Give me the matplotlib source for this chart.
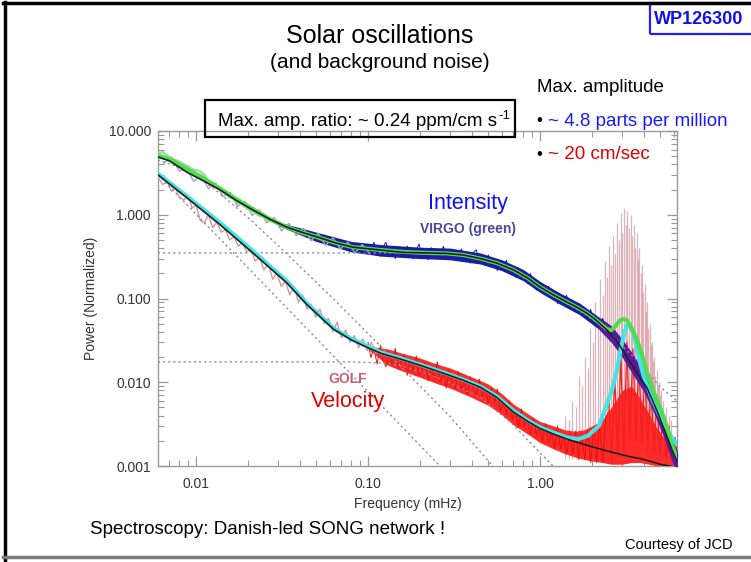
import numpy as np
import matplotlib.pyplot as plt
from matplotlib.lines import Line2D
from matplotlib.patches import Rectangle

plt.rcParams['font.family'] = ['Liberation Sans', 'DejaVu Sans']

# ---- smooth fits (mHz, normalized power) ----
int_fit_f = [0.006, 0.007, 0.0089, 0.011, 0.0138, 0.017, 0.0214, 0.027, 0.0338, 0.042, 0.0526,
             0.065, 0.0818, 0.117, 0.16, 0.22, 0.29, 0.36, 0.45, 0.56, 0.70, 0.85, 1.0, 1.2, 1.43,
             1.65, 1.87, 2.1, 2.45, 2.8, 3.2, 3.8, 4.2, 4.8, 5.4, 5.9, 6.3]
int_fit_p = [4.9, 4.4, 3.2, 2.55, 1.98, 1.5, 1.14, 0.88, 0.71, 0.61, 0.53,
             0.46, 0.41, 0.38, 0.355, 0.35, 0.345, 0.33, 0.30, 0.265, 0.22, 0.175, 0.137, 0.11, 0.091,
             0.078, 0.067, 0.056, 0.042, 0.031, 0.02, 0.0115, 0.0085, 0.0045, 0.0024, 0.0015, 0.0011]

green_fit_f = [0.006, 0.007, 0.0089, 0.011, 0.0138, 0.017, 0.0214, 0.027, 0.0338, 0.042, 0.0526,
               0.065, 0.0818, 0.117, 0.16, 0.22, 0.29, 0.36, 0.45, 0.56, 0.70, 0.85, 1.0, 1.2, 1.43,
               1.65, 1.87, 2.1, 2.3, 2.45, 2.6, 2.75, 2.9, 3.04, 3.2, 3.4, 3.66, 3.9, 4.2, 4.6,
               5.0, 5.45, 5.9, 6.3]
green_fit_p = [5.1, 4.6, 3.5, 2.75, 2.05, 1.55, 1.17, 0.88, 0.71, 0.61, 0.53,
               0.46, 0.41, 0.38, 0.36, 0.35, 0.345, 0.33, 0.30, 0.265, 0.22, 0.175, 0.137, 0.11, 0.091,
               0.078, 0.067, 0.056, 0.048, 0.043, 0.042, 0.047, 0.054, 0.057, 0.055, 0.045, 0.032, 0.022,
               0.0129, 0.0075, 0.005, 0.003, 0.0017, 0.0012]

golf_fit_f = [0.006, 0.0089, 0.0138, 0.0214, 0.0338, 0.044, 0.063, 0.08, 0.099, 0.12, 0.153, 0.2,
              0.29, 0.36, 0.45, 0.56, 0.70, 0.85, 1.0, 1.2, 1.43, 1.67, 2.0, 2.65, 3.3, 4.0, 5.0,
              5.9, 6.3]
golf_fit_p = [3.0, 1.58, 0.76, 0.35, 0.153, 0.085, 0.043, 0.032, 0.026, 0.022, 0.019, 0.016,
              0.0123, 0.0105, 0.0087, 0.0066, 0.0044, 0.0034, 0.0028, 0.0024, 0.0021, 0.0019, 0.0017,
              0.00145, 0.0013, 0.0012, 0.00105, 0.00098, 0.00095]

cyan_fit_f = [0.006, 0.0089, 0.0138, 0.0214, 0.0338, 0.044, 0.063, 0.08, 0.099, 0.12, 0.153, 0.2,
              0.29, 0.36, 0.45, 0.56, 0.70, 0.85, 1.0, 1.2, 1.43, 1.67, 1.9, 2.2, 2.45, 2.65, 2.8,
              2.95, 3.1, 3.2, 3.35, 3.5, 3.66, 3.85, 4.0, 4.5, 5.2, 5.9, 6.3]
cyan_fit_p = [3.1, 1.65, 0.8, 0.37, 0.16, 0.088, 0.044, 0.033, 0.027, 0.0225, 0.0195, 0.0163,
              0.0126, 0.0107, 0.0089, 0.0068, 0.0046, 0.0035, 0.0029, 0.0025, 0.0022, 0.0021, 0.0023,
              0.0030, 0.0055, 0.0087, 0.014, 0.025, 0.04, 0.048, 0.047, 0.038, 0.025, 0.016, 0.012,
              0.0062, 0.0033, 0.0021, 0.0018]

# ---- background components (dotted) ----
harv1_int_f = [0.006, 0.008, 0.010, 0.0125, 0.015, 0.0206, 0.03, 0.0626, 0.15, 0.3, 0.53]
harv1_int_p = [4.5, 3.7, 2.9, 2.1, 1.55, 0.88, 0.43, 0.1, 0.0165, 0.0039, 0.001]
harv2_int_f = [0.006, 0.1, 0.3, 0.45, 0.6, 0.8, 1.0, 1.43, 1.87, 2.45, 3.0, 3.66, 4.3, 5.0, 5.6, 6.26]
harv2_int_p = [0.35, 0.35, 0.35, 0.30, 0.245, 0.18, 0.135, 0.088, 0.063, 0.042, 0.027, 0.0185,
               0.0125, 0.0088, 0.0072, 0.006]
harv1_golf_f = [0.006, 0.262]
harv1_golf_p = [3.0, 0.001]
harv2_golf_f = [0.006, 0.08, 0.12, 0.16, 0.22, 0.3, 0.45, 0.7, 0.9, 1.05, 1.19]
harv2_golf_p = [0.0175, 0.0175, 0.017, 0.0155, 0.0128, 0.0098, 0.0066, 0.0031, 0.0018, 0.0013, 0.001]

# ---- raw spectra (estimated wiggles) ----
green_raw_f = [0.0060, 0.0064, 0.0068, 0.0072, 0.0076, 0.0080, 0.0085, 0.0090, 0.0095, 0.0100,
               0.0106, 0.0112, 0.0118, 0.0125, 0.0132, 0.0140, 0.0148, 0.0157, 0.0166, 0.0176,
               0.0186, 0.0197, 0.0209, 0.0221, 0.0234, 0.0248, 0.0263, 0.0279, 0.0295, 0.0313,
               0.0331, 0.0351, 0.0372, 0.0394, 0.0417, 0.0442, 0.0468, 0.0496, 0.0525, 0.0556,
               0.0589, 0.0624, 0.0661, 0.0700]
green_raw_p = [5.4, 5.6, 5.1, 4.7, 4.5, 4.3, 4.0, 3.8, 3.5, 3.4,
               3.3, 3.0, 2.5, 2.4, 2.2, 1.9, 1.8, 1.6, 1.55, 1.35,
               1.32, 1.18, 1.12, 1.05, 0.97, 0.95, 0.86, 0.84, 0.78, 0.76,
               0.70, 0.69, 0.64, 0.63, 0.59, 0.58, 0.55, 0.54, 0.51, 0.50,
               0.48, 0.47, 0.45, 0.44]

lav_raw_f = [0.0065, 0.0072, 0.008, 0.0088, 0.0097, 0.0107, 0.0118, 0.013, 0.0143, 0.0158,
             0.0174, 0.0192, 0.0212, 0.0234, 0.0258, 0.0285, 0.0314, 0.0347, 0.0383, 0.0422,
             0.0466, 0.0514, 0.0567, 0.0626, 0.069, 0.0762, 0.084, 0.0927, 0.1023]
lav_raw_p = [4.1, 4.9, 3.3, 3.6, 2.5, 3.0, 2.05, 2.4, 1.65, 1.85,
             1.25, 1.45, 0.98, 1.15, 0.8, 0.93, 0.64, 0.79, 0.56, 0.69,
             0.49, 0.6, 0.43, 0.53, 0.39, 0.47, 0.35, 0.44, 0.34]

golf_low_f = [0.0060, 0.0064, 0.0068, 0.0072, 0.0076, 0.0080, 0.0085, 0.0090, 0.0095, 0.0100,
              0.0106, 0.0112, 0.0118, 0.0125, 0.0132, 0.0140, 0.0148, 0.0157, 0.0166, 0.0176,
              0.0186, 0.0197, 0.0209, 0.0221, 0.0234, 0.0248, 0.0263, 0.0279, 0.0295, 0.0313,
              0.0331, 0.0351, 0.0372, 0.0394, 0.0417, 0.0442, 0.0468, 0.0496, 0.0525, 0.0556,
              0.0589, 0.0624, 0.0661, 0.0700, 0.0741, 0.0785, 0.0832, 0.0881, 0.0933, 0.0989,
              0.1047, 0.1109]
golf_low_p = [2.8, 2.3, 2.5, 1.9, 2.1, 1.6, 1.5, 1.7, 1.2, 1.3,
              0.85, 0.8, 1.0, 0.7, 0.82, 0.62, 0.66, 0.5, 0.55, 0.42,
              0.47, 0.36, 0.38, 0.28, 0.31, 0.22, 0.26, 0.17, 0.2, 0.14,
              0.16, 0.11, 0.14, 0.09, 0.11, 0.075, 0.085, 0.06, 0.075, 0.05,
              0.058, 0.04, 0.052, 0.034, 0.042, 0.03, 0.036, 0.026, 0.033, 0.024,
              0.03, 0.022]

jag_f = [0.100, 0.104, 0.108, 0.113, 0.118, 0.122, 0.127, 0.133, 0.138, 0.144, 0.150, 0.156,
         0.162, 0.169, 0.176, 0.183, 0.191, 0.198, 0.206, 0.215, 0.224, 0.233, 0.243, 0.253,
         0.263, 0.274, 0.285, 0.297, 0.309, 0.322, 0.335, 0.349, 0.363, 0.378, 0.393, 0.410,
         0.426, 0.444, 0.462, 0.481, 0.501, 0.521, 0.543, 0.565, 0.588, 0.613, 0.638, 0.664,
         0.691, 0.720, 0.749, 0.780, 0.812, 0.846, 0.880, 0.917, 0.954, 0.993, 1.034, 1.077,
         1.121, 1.167, 1.215, 1.265, 1.317, 1.371, 1.427, 1.486, 1.547, 1.611, 1.677, 1.746,
         1.818, 1.892, 1.970, 2.051, 2.135, 2.223, 2.315, 2.410, 2.509]
int_jag_p = [0.437, 0.334, 0.47, 0.363, 0.319, 0.408, 0.469, 0.335, 0.377, 0.30, 0.416, 0.378,
             0.312, 0.424, 0.327, 0.298, 0.385, 0.448, 0.315, 0.35, 0.29, 0.405, 0.327, 0.375,
             0.298, 0.421, 0.335, 0.288, 0.381, 0.347, 0.295, 0.392, 0.304, 0.345, 0.264, 0.357,
             0.382, 0.269, 0.296, 0.247, 0.331, 0.257, 0.289, 0.216, 0.286, 0.237, 0.286, 0.20,
             0.231, 0.179, 0.235, 0.179, 0.204, 0.151, 0.198, 0.149, 0.126, 0.157, 0.136, 0.112,
             0.14, 0.105, 0.117, 0.087, 0.112, 0.092, 0.109, 0.077, 0.088, 0.069, 0.088, 0.069,
             0.076, 0.055, 0.074, 0.054, 0.06, 0.046, 0.058, 0.042, 0.042]
golf_jag_p = [0.0299, 0.0197, 0.0257, 0.0165, 0.0275, 0.0185, 0.0153, 0.0226, 0.016, 0.0254,
              0.0143, 0.0178, 0.0215, 0.0121, 0.0187, 0.0138, 0.0205, 0.0119, 0.0141, 0.0171,
              0.0104, 0.0148, 0.0113, 0.0175, 0.0101, 0.0137, 0.0085, 0.014, 0.010, 0.0084,
              0.0134, 0.0084, 0.0105, 0.0071, 0.0116, 0.0082, 0.0068, 0.0109, 0.0068, 0.0086,
              0.0055, 0.0086, 0.0057, 0.0083, 0.0045, 0.0057, 0.0041, 0.006, 0.0036, 0.0047,
              0.0029, 0.0048, 0.003, 0.0035, 0.0024, 0.0037, 0.0023, 0.0031, 0.0019, 0.0032,
              0.0019, 0.0025, 0.0016, 0.003, 0.0016, 0.0024, 0.0014, 0.0025, 0.0014, 0.0026,
              0.0012, 0.0025, 0.0012, 0.0027, 0.0011, 0.0029, 0.0011, 0.0032, 0.0011, 0.0038,
              0.0045]

golf_hf_f = [2.51, 2.61, 2.72, 2.83, 2.95, 3.07, 3.20, 3.33, 3.47, 3.61, 3.76, 3.91, 4.07, 4.24,
             4.41, 4.60, 4.79, 4.98, 5.19, 5.40, 5.62, 5.85, 6.09, 6.26]
golf_hf_p = [0.006, 0.0011, 0.012, 0.0013, 0.02, 0.0015, 0.03, 0.002, 0.025, 0.002, 0.02, 0.0018,
             0.014, 0.0016, 0.009, 0.0015, 0.006, 0.0013, 0.004, 0.0012, 0.003, 0.0011, 0.0022, 0.0015]

int_band_f = [0.03, 0.05, 0.08, 0.12, 0.2, 0.3, 0.45, 0.6, 0.8, 1.0, 1.3, 1.7, 2.2, 2.6, 3.0,
              3.5, 4.0, 4.6, 5.2, 5.9, 6.3]
int_band_lo = [0.74, 0.48, 0.36, 0.32, 0.30, 0.29, 0.258, 0.215, 0.163, 0.118, 0.086, 0.064,
               0.043, 0.030, 0.020, 0.012, 0.0078, 0.0043, 0.0023, 0.0011, 0.0008]
int_band_hi = [0.82, 0.62, 0.48, 0.44, 0.41, 0.40, 0.35, 0.29, 0.222, 0.16, 0.117, 0.088,
               0.060, 0.047, 0.033, 0.021, 0.0135, 0.0076, 0.0042, 0.002, 0.0015]

golf_band_f = [0.10, 0.13, 0.16, 0.2, 0.25, 0.3, 0.4, 0.5, 0.6, 0.7, 0.85, 1.0, 1.2, 1.4, 1.6,
               1.8, 2.0, 2.3, 2.6, 3.0, 3.4, 3.8, 4.3, 4.8, 5.4, 6.0, 6.3]
golf_band_lo = [0.025, 0.016, 0.0135, 0.0115, 0.0097, 0.0085, 0.0066, 0.0053, 0.0041, 0.0031,
                0.0024, 0.0019, 0.0016, 0.0014, 0.00128, 0.0012, 0.00115, 0.0011, 0.00105,
                0.00105, 0.0011, 0.0011, 0.00105, 0.001, 0.001, 0.001, 0.001]
golf_band_hi = [0.027, 0.025, 0.022, 0.0195, 0.0165, 0.0148, 0.0116, 0.0095, 0.0073, 0.0055,
                0.0042, 0.0034, 0.003, 0.0027, 0.0026, 0.0027, 0.003, 0.0035, 0.005, 0.008,
                0.009, 0.0065, 0.0042, 0.0028, 0.002, 0.0015, 0.0014]

# ---- p-mode peaks ----
mode_f = [1.40, 1.47, 1.54, 1.61, 1.68, 1.75, 1.82, 1.89, 1.96, 2.03, 2.10, 2.17, 2.24, 2.31,
          2.38, 2.45, 2.52, 2.59, 2.66, 2.73, 2.80, 2.87, 2.94, 3.01, 3.08, 3.15, 3.22, 3.29,
          3.36, 3.43, 3.50, 3.57, 3.64, 3.71, 3.78, 3.85, 3.92, 3.99, 4.06, 4.13, 4.20, 4.27,
          4.34, 4.41, 4.48, 4.55, 4.62, 4.69, 4.76, 4.83, 4.90, 4.97, 5.04, 5.20, 5.40, 5.60, 5.80]
mode_p = [0.004, 0.0035, 0.006, 0.005, 0.012, 0.009, 0.02, 0.015, 0.045, 0.03, 0.09, 0.06,
          0.17, 0.11, 0.28, 0.18, 0.42, 0.25, 0.55, 0.35, 0.8, 0.5, 1.05, 0.6, 1.2, 0.75, 1.1,
          0.7, 1.0, 0.55, 0.75, 0.4, 0.6, 0.3, 0.4, 0.2, 0.25, 0.12, 0.15, 0.07, 0.09, 0.045,
          0.05, 0.028, 0.03, 0.018, 0.02, 0.012, 0.014, 0.009, 0.01, 0.007, 0.008, 0.006, 0.005,
          0.004, 0.0035]
mode_floor = 0.0012

y_ticks = [0.001, 0.01, 0.1, 1, 10]
y_labels = ['0.001', '0.010', '0.100', '1.000', '10.000']
x_ticks = [0.01, 0.1, 1]
x_labels = ['0.01', '0.10', '1.00']

W, H = 751, 562
fig = plt.figure(figsize=(W / 100, H / 100), dpi=100)


def fx(x):
    return x / W


def fy(y):
    return 1 - y / H


ax = fig.add_axes([fx(158), fy(466), (677 - 158) / W, (466 - 131) / H])
ax.set_xscale('log')
ax.set_yscale('log')
ax.set_xlim(0.00601, 6.26)
ax.set_ylim(0.001, 10)

# raw data
ax.vlines(mode_f[0::2], mode_floor, mode_p[0::2], colors='#cfaec0', lw=0.9, alpha=0.9, zorder=2)
ax.vlines(mode_f[1::2], mode_floor, mode_p[1::2], colors='#f08a8a', lw=0.9, alpha=0.7, zorder=2)
ax.fill_between(golf_band_f, golf_band_lo, golf_band_hi, color='#ff2a2a', lw=0, zorder=2.5)
ax.plot(jag_f, golf_jag_p, color='#e81010', lw=0.7, zorder=2.6)
ax.plot(golf_hf_f, golf_hf_p, color='#f02020', lw=0.9, zorder=2.6)
ax.plot(golf_low_f, golf_low_p, color='#d8949c', lw=1, zorder=2.6)

ibf = np.array(int_band_f)
ax.fill_between(ibf, int_band_lo, int_band_hi, where=ibf <= 2.6, color='#1c1ca8', lw=0, zorder=3)
ax.fill_between(ibf, int_band_lo, int_band_hi, where=ibf >= 2.2, color='#5a1a9e', lw=0, zorder=3)
ax.plot(jag_f, int_jag_p, color='#1818b4', lw=0.7, zorder=3.1)
ax.plot(lav_raw_f, lav_raw_p, color='#a4a0cc', lw=1, zorder=3.1)
ax.plot(green_raw_f, green_raw_p, color='#8fe08f', lw=1.6, zorder=3.2)

# background components
dots = dict(color='#8c8c8c', lw=1, ls=(0, (1.5, 2.2)), zorder=4)
ax.plot(harv1_int_f, harv1_int_p, **dots)
ax.plot(harv2_int_f, harv2_int_p, **dots)
ax.plot(harv1_golf_f, harv1_golf_p, **dots)
ax.plot(harv2_golf_f, harv2_golf_p, **dots)

# fits
ax.plot(cyan_fit_f, cyan_fit_p, color='#44e4e4', lw=3, zorder=5)
ax.plot(golf_fit_f, golf_fit_p, color='#202020', lw=1.2, zorder=6)
ax.plot(green_fit_f, green_fit_p, color='#4fdc4f', lw=3, zorder=5)
ax.plot(int_fit_f, int_fit_p, color='#202020', lw=1.2, zorder=6)

# axes styling
for s in ax.spines.values():
    s.set_color('#9a9a9a')
    s.set_linewidth(1)
ax.set_xticks(x_ticks)
ax.set_xticklabels(x_labels)
ax.set_yticks(y_ticks)
ax.set_yticklabels(y_labels)
ax.tick_params(which='both', direction='in', top=True, right=True, color='#9a9a9a',
               labelcolor='#333333', labelsize=10)
ax.tick_params(which='major', length=7, width=0.9)
ax.tick_params(which='minor', length=4, width=0.8)
ax.tick_params(axis='x', pad=8)
ax.tick_params(axis='y', pad=5)
ax.set_xlabel('Frequency (mHz)', fontsize=10, color='#333333')
ax.set_ylabel('Power (Normalized)', fontsize=10, color='#333333')
ax.xaxis.set_label_coords((408 - 158) / 519, (466 - 497) / 335)
ax.yaxis.set_label_coords((98 - 158) / 519, 0.5)

# labels inside the plot
fig.text(fx(468), fy(204), 'Intensity', color='#1010f0', fontsize=15.5, ha='center', va='center')
fig.text(fx(468), fy(229), 'VIRGO (green)', color='#4848a0', fontsize=10, fontweight='bold',
         ha='center', va='center')
fig.text(fx(348), fy(379), 'GOLF', color='#c86070', fontsize=10, fontweight='bold',
         ha='center', va='center')
fig.text(fx(348), fy(401), 'Velocity', color='#e00000', fontsize=15.5, ha='center', va='center')

# slide decorations
fig.add_artist(Line2D([fx(3), 1], [fy(3), fy(3)], color='black', lw=2.5, transform=fig.transFigure))
fig.add_artist(Line2D([fx(4.5), fx(4.5)], [fy(2), 0], color='black', lw=2.5, transform=fig.transFigure))
fig.add_artist(Line2D([fx(3), 1], [fy(557), fy(557)], color='#7a7a7a', lw=2.5, transform=fig.transFigure))
fig.add_artist(Rectangle((fx(650), fy(34)), 0.2, fy(3) - fy(34), fill=False, ec='#2020ff', lw=1.6,
                         transform=fig.transFigure))
fig.text(fx(699), fy(19), 'WP126300', color='#1010e8', fontsize=13, fontweight='bold',
         ha='center', va='center')

fig.text(fx(380), fy(36), 'Solar oscillations', fontsize=18, ha='center', va='center')
fig.text(fx(380), fy(62), '(and background noise)', fontsize=15, ha='center', va='center')

fig.add_artist(Rectangle((fx(205), fy(137)), (515 - 205) / W, (137 - 100) / H, fill=False,
                         ec='black', lw=1.6, transform=fig.transFigure))
ratio = fig.text(fx(218), fy(121), 'Max. amp. ratio: ~ 0.24 ppm/cm s', fontsize=13.5,
                 ha='left', va='center')
ax.annotate('-1', xy=(1, 1), xycoords=ratio, xytext=(1, 2), textcoords='offset points',
            fontsize=9.5, ha='left', va='top', annotation_clip=False)

fig.text(fx(537), fy(88), 'Max. amplitude', fontsize=13.5, ha='left', va='center')
fig.text(fx(536), fy(121), '\u2022', fontsize=12, ha='left', va='center')
fig.text(fx(548), fy(121), '~ 4.8 parts per million', fontsize=13.5, color='#1a1aff',
         ha='left', va='center')
fig.text(fx(536), fy(155), '\u2022', fontsize=12, ha='left', va='center')
fig.text(fx(548), fy(155), '~ 20 cm/sec', fontsize=13.5, color='#e00000', ha='left', va='center')

fig.text(fx(90), fy(530), 'Spectroscopy: Danish-led SONG network !', fontsize=13.5,
         ha='left', va='center')
fig.text(fx(625), fy(545), 'Courtesy of JCD', fontsize=10.5, ha='left', va='center')

fig.savefig('out.png', dpi=100)
